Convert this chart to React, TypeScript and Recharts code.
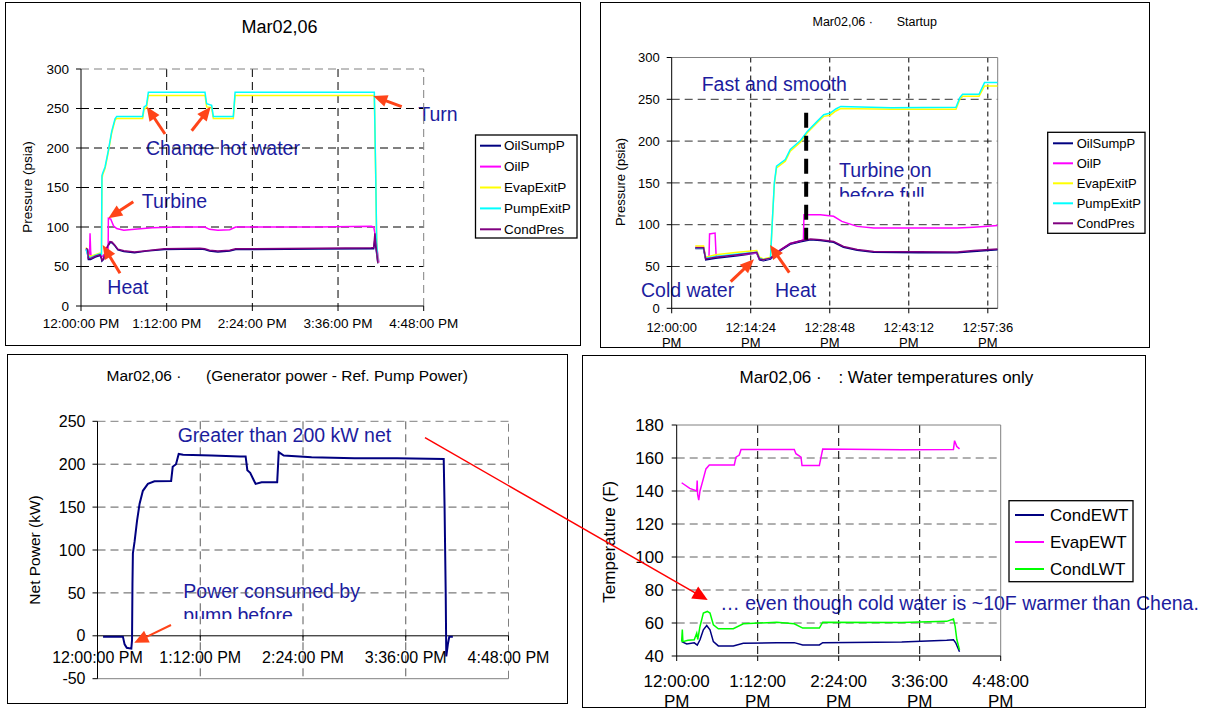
import React from 'react';
import { LineChart, Line, XAxis, YAxis, CartesianGrid, ReferenceLine } from 'recharts';

type Pt = [number, number];

const FONT = '"Liberation Sans", Arial, Helvetica, sans-serif';
const NOTE_BLUE = '#1c1c9e';
const ARROW_ORANGE = '#ff4419';

// axis ticks / labels (time in minutes after 12:00 PM)
const DAY_TICKS = [0, 72, 144, 216, 288];
const DAY_LABELS = ['12:00:00 PM', '1:12:00 PM', '2:24:00 PM', '3:36:00 PM', '4:48:00 PM'];
const DAY_LABELS_SHORT = ['12:00:00', '1:12:00', '2:24:00', '3:36:00', '4:48:00'];
const START_TICKS = [0, 14.4, 28.8, 43.2, 57.6];
const START_LABELS = ['12:00:00', '12:14:24', '12:28:48', '12:43:12', '12:57:36'];
const PRESSURE_TICKS = [0, 50, 100, 150, 200, 250, 300];
const POWER_TICKS = [-50, 0, 50, 100, 150, 200, 250];
const TEMP_TICKS = [40, 60, 80, 100, 120, 140, 160, 180];

// ---- Mar02,06 full day pressures
const OIL_SUMP_P: Pt[] = [[4.2,72],[5.5,71],[6.2,59],[8,59],[12,62],[16,64],[17,61],[17.6,57],[19,59],[21,71],[24.4,80.5],[26,80],[28,77],[31,71],[36,69],[45,67.5],[55,69.5],[70,71.5],[100,72],[104,71.5],[108,69.5],[115,68.5],[125,69.5],[130,71.5],[200,72],[244,72.5],[246,72.5],[247,85],[248,72],[249.5,54]];
const OIL_P: Pt[] = [[4.2,72],[6,63],[7.2,64],[7.6,92],[8.1,70],[8.5,62],[12,64],[16,66],[17.4,62],[20,66],[22.8,70],[23,111],[25,110],[27.5,101],[30,98],[36,96],[45,97],[60,99],[80,100],[104,100],[108,97],[115,96],[125,96.5],[130,100],[200,100],[244,101],[246,100],[247.5,88],[249,70],[250.4,55]];
const EVAP_EXIT_P: Pt[] = [[4.2,74],[6,65],[8,63],[12,65],[16,67],[17.2,66],[17.6,160],[18.2,166],[20.2,174],[23,195],[25.8,219],[28.6,235],[30,237.5],[51.8,237.5],[53,249],[55,251],[56.6,266.5],[104.2,266.5],[105.6,252],[109.8,251],[111.2,237.5],[128,237.5],[129.5,266.5],[246.5,266.5],[247.7,160],[248.5,80],[249.5,55]];
const PUMP_EXIT_P: Pt[] = [[4.2,72],[6,63],[8,61],[12,64],[16,66],[17.2,65],[17.6,165],[18.2,168],[20.2,176],[23,197],[25.8,221],[28.6,237],[30,240],[51.8,240],[53,252],[55,254],[56.6,270.5],[104.2,270.5],[105.6,256],[109.8,254],[111.2,240],[128,240],[129.5,270.5],[246.5,270.5],[247.7,165],[248.5,80],[249.5,56]];
const COND_PRES: Pt[] = [[4.2,73],[5.5,72],[6.2,60],[8,60],[12,63],[16,65],[17,62],[17.6,58],[19,60],[21,72],[24.4,81.5],[26,81],[28,78],[31,72],[36,70],[45,68.5],[55,70],[70,72.5],[100,73],[104,72.5],[108,70.5],[115,69.5],[125,70.5],[130,72.5],[200,73],[244,73.8],[246,74],[247,92],[248,75],[249.5,55]];

// ---- Startup pressures
const S_OIL_SUMP_P: Pt[] = [[4.3,71.5],[5.8,71.5],[6.2,58],[8,60],[12,63],[15.5,66],[16,58],[16.7,57],[18,59],[19.8,69],[21.6,76.6],[23.5,79.7],[25.3,82],[27.1,81],[29.5,79],[31.3,73],[33.8,69.4],[36.8,67],[45,66.5],[52,66.4],[55,68],[59.4,70]];
const S_OIL_P: Pt[] = [[4.3,73],[5.8,73],[6.2,60],[6.8,62],[6.9,89],[7.9,90],[8.1,62],[12,64],[15.5,66],[16,59],[16.7,58],[18,60],[19.8,70],[21.6,77.6],[23.5,80.7],[24,82],[24.1,112],[27.1,112],[29.5,110],[31,104],[33.8,98],[36.8,96],[52,96],[55,97],[59.4,99]];
const S_EVAP_EXIT_P: Pt[] = [[4.3,74.5],[5.8,74.5],[6.2,61],[8,64],[12,67],[15.5,69],[16,61],[16.7,59],[18,61],[18.3,100],[18.7,148],[19.1,168],[20.7,176],[21.6,188],[23.5,199],[24.7,210],[26.5,222],[27.7,229.6],[28.9,231],[29.9,236],[30.8,239],[40,238],[51.8,238],[52.5,250],[53,253.5],[56,253.5],[57,266],[59.4,266]];
const S_PUMP_EXIT_P: Pt[] = [[4.3,72],[5.8,72],[6.2,60],[8,62],[12,65],[15.5,67],[16,60],[16.7,58],[18,60],[18.3,100],[18.7,150],[19.1,170],[20.7,178],[21.6,190],[23.5,201],[24.7,211.6],[26.5,223.6],[27.7,231.6],[28.9,233.6],[29.9,238.4],[30.8,241.5],[40,240],[51.8,240.5],[52.5,252],[53,256],[56,256],[57,270],[59.4,270]];
const S_COND_PRES: Pt[] = [[4.3,72.5],[5.8,72.5],[6.2,59],[8,61],[12,64],[15.5,67],[16,59],[16.7,58],[18,60],[19.8,70],[21.6,77.6],[23.5,80.7],[25.3,83],[27.1,82],[29.5,80],[31.3,74],[33.8,70.4],[36.8,68],[45,67.5],[52,67.4],[55,69],[59.4,71]];
// turbine-on marker (min, psia)
const TURBINE_ON_MIN = 24.5;
const TURBINE_ON_RANGE = [82, 234];

// ---- Net power
const NET_POWER: Pt[] = [[3.9,-1],[17.8,-1],[19,-10],[20.5,-14],[23.7,-15],[24.2,-5],[24.5,60],[24.8,96],[26,110],[27.2,127],[27.7,134],[29.5,154],[31.8,169],[35.3,177],[39.9,180],[51.6,180.5],[52.7,197],[55,200],[56.9,212],[60,211],[80,210],[100,209],[103.8,209],[105,193],[107,190],[109.6,181],[110.8,177],[115,179],[125.9,179],[127,214],[130.5,210],[150,208],[180,207],[210,207],[242.6,206],[243.2,150],[244,50],[244.4,-24],[245.5,-10],[246.5,-1],[249,-1]];

// ---- Water temperatures
const COND_EWT: Pt[] = [[4.4,48.7],[8.9,47.3],[15.6,48],[18.3,46.6],[20.7,49.8],[23.7,55.9],[26.7,58.5],[29.6,55.9],[32.6,48.7],[37,46.1],[50.3,46.1],[59.2,47.7],[88.9,48.1],[104.5,48.1],[112,46.7],[126.8,46.7],[129.8,48.1],[200,48.5],[240,49.5],[246,49.8],[248,48],[251.4,42.6]];
const EVAP_EWT: Pt[] = [[4.4,145],[11.6,141.6],[17.8,140],[18.2,146.4],[18.6,138],[19.6,134.5],[20.7,140],[23.1,146],[26,153.4],[29,155.8],[51.2,155.8],[52.7,160.5],[55.6,161.8],[57.2,165.2],[104.5,165.2],[106,162.6],[110.5,160.5],[111.4,155.4],[126.8,155.4],[128.3,160.5],[129.8,165.4],[200,165],[246,165.2],[247,170.5],[249,167],[251.4,165.5]];
const COND_LWT: Pt[] = [[4.4,48.7],[5,56],[5.5,48.7],[10,49.5],[15.6,49.8],[17.8,53.8],[18.7,50],[20.7,57.9],[23.7,66],[27.2,67],[29.6,66],[32.6,58.9],[37,56.5],[50.3,56.5],[59.2,59.5],[88.9,60.5],[104.5,59.5],[112,56.9],[126.8,56.9],[129.8,60.5],[200,60.3],[240,61],[246,62.4],[247.5,58],[249,50],[251.4,43.7]];

const PRESSURE_NAMES = ['OilSumpP', 'OilP', 'EvapExitP', 'PumpExitP', 'CondPres'];
const PRESSURE_COLORS = ['#000080', '#ff00ff', '#ffff00', '#00ffff', '#800080'];
const DAY_PRESSURES = [OIL_SUMP_P, OIL_P, EVAP_EXIT_P, PUMP_EXIT_P, COND_PRES];
const START_PRESSURES = [S_OIL_SUMP_P, S_OIL_P, S_EVAP_EXIT_P, S_PUMP_EXIT_P, S_COND_PRES];
const TEMP_NAMES = ['CondEWT', 'EvapEWT', 'CondLWT'];
const TEMP_COLORS = ['#000080', '#ff00ff', '#00ff00'];
const TEMPS = [COND_EWT, EVAP_EWT, COND_LWT];

const rows = (pts: Pt[]) => pts.map(([t, v]) => ({ t, v }));

function Panel({ left, top, width, height, children }: any) {
  return (
    <div style={{ position: 'absolute', left, top, width, height, border: '1px solid #000', boxSizing: 'border-box', overflow: 'hidden', zIndex: 1 }}>
      {children}
    </div>
  );
}

function Arrow({ x1, y1, x2, y2, color, w, head, headW }: any) {
  const dx = x2 - x1, dy = y2 - y1;
  const len = Math.hypot(dx, dy);
  const ux = dx / len, uy = dy / len;
  const bx = x2 - ux * head, by = y2 - uy * head;
  const px = (-uy * headW) / 2, py = (ux * headW) / 2;
  return (
    <g>
      <line x1={x1} y1={y1} x2={bx + ux} y2={by + uy} stroke={color} strokeWidth={w} />
      <polygon points={`${x2},${y2} ${bx + px},${by + py} ${bx - px},${by - py}`} fill={color} />
    </g>
  );
}

function LegendBox({ x, y, w, h, names, colors, first, step, lineX, lineW, textX, fs }: any) {
  return (
    <g>
      <rect x={x} y={y} width={w} height={h} fill="#fff" stroke="#000" strokeWidth={1.3} />
      {names.map((n: string, i: number) => (
        <g key={n}>
          <line x1={lineX} x2={lineX + lineW} y1={first + i * step} y2={first + i * step} stroke={colors[i]} strokeWidth={2} />
          <text x={textX} y={first + i * step} dominantBaseline="central" fontSize={fs} fill="#000">{n}</text>
        </g>
      ))}
    </g>
  );
}

const yAxisProps = (fs: number, margin: number) => ({
  type: 'number' as const,
  width: 50,
  interval: 0 as const,
  tickSize: 5,
  tickMargin: margin,
  tick: { fontSize: fs, fill: '#000', fontFamily: FONT },
  axisLine: { stroke: '#000' },
  tickLine: { stroke: '#000' },
  allowDataOverflow: true,
});

export default function App() {
  const dayTick = (props: any) => {
    const i = DAY_TICKS.indexOf(props.payload.value);
    return <text x={props.x} y={props.y + 17.3} textAnchor="middle" fontSize={13.5} fill="#000" fontFamily={FONT}>{DAY_LABELS[i]}</text>;
  };
  const startTick = (props: any) => {
    const i = START_TICKS.indexOf(props.payload.value);
    return (
      <g>
        <text x={props.x} y={props.y + 18.4} textAnchor="middle" fontSize={13} fill="#000" fontFamily={FONT}>{START_LABELS[i]}</text>
        <text x={props.x} y={props.y + 33.4} textAnchor="middle" fontSize={13} fill="#000" fontFamily={FONT}>PM</text>
      </g>
    );
  };
  const p3PlotH = 348 - 66.3 - 4.3 - 20;
  const zeroOff = (p3PlotH * 50) / 300;
  const powerTick = (props: any) => {
    const i = DAY_TICKS.indexOf(props.payload.value);
    return (
      <g>
        <line x1={props.x} x2={props.x} y1={props.y - zeroOff} y2={props.y - zeroOff + 5} stroke="#000" />
        <text x={props.x} y={props.y - 15.4} textAnchor="middle" fontSize={16} fill="#000" fontFamily={FONT}>{DAY_LABELS[i]}</text>
      </g>
    );
  };
  const tempTick = (props: any) => {
    const i = DAY_TICKS.indexOf(props.payload.value);
    return (
      <g>
        <text x={props.x} y={props.y + 25.7} textAnchor="middle" fontSize={17} fill="#000" fontFamily={FONT}>{DAY_LABELS_SHORT[i]}</text>
        <text x={props.x} y={props.y + 45.7} textAnchor="middle" fontSize={17} fill="#000" fontFamily={FONT}>PM</text>
      </g>
    );
  };

  return (
    <div style={{ position: 'fixed', left: 0, top: 0, width: 1213, height: 708, background: '#fff', fontFamily: FONT, overflow: 'hidden' }}>
      {/* texts drawn under the plots (grid lines cross them in the original) */}
      <svg width={1213} height={708} style={{ position: 'absolute', left: 0, top: 0, zIndex: 0 }} fontFamily={FONT}>
        <defs>
          <clipPath id="clipChange"><rect x={130} y={125} width={220} height={30.5} /></clipPath>
          <clipPath id="clipTurbineOn"><rect x={830} y={150} width={120} height={46.7} /></clipPath>
          <clipPath id="clipPump"><rect x={175} y={575} width={220} height={44} /></clipPath>
        </defs>
        {/* panel 1 */}
        <text x={279.5} y={33.3} textAnchor="middle" fontSize={18} fill="#000">Mar02,06</text>
        <text x={27} y={187} textAnchor="middle" dominantBaseline="central" fontSize={13.5} transform="rotate(-90 27 187)">Pressure (psia)</text>
        <g fill={NOTE_BLUE} fontSize={19.5}>
          <text x={146} y={154.5} clipPath="url(#clipChange)">Change hot water</text>
          <text x={141.7} y={207.7}>Turbine</text>
          <text x={107.3} y={294.3}>Heat</text>
          <text x={418.3} y={121}>Turn</text>
        </g>
        {/* panel 2 */}
        <text x={812.5} y={26} fontSize={12.5}>Mar02,06 ·</text>
        <text x={896.7} y={26} fontSize={12.5}>Startup</text>
        <text x={620} y={182} textAnchor="middle" dominantBaseline="central" fontSize={13} transform="rotate(-90 620 182)">Pressure (psia)</text>
        <g fill={NOTE_BLUE} fontSize={19.5}>
          <text x={701.7} y={90.7}>Fast and smooth</text>
          <g clipPath="url(#clipTurbineOn)">
            <text x={839} y={177.3}>Turbine on</text>
            <text x={839} y={201.8}>before full</text>
          </g>
          <text x={641} y={296.7}>Cold water</text>
          <text x={775} y={296.7}>Heat</text>
        </g>
        {/* panel 3 */}
        <text x={106.5} y={380.5} fontSize={15.5}>Mar02,06 ·</text>
        <text x={206} y={380.5} fontSize={15.5}>(Generator power - Ref. Pump Power)</text>
        <text x={34.6} y={550} textAnchor="middle" dominantBaseline="central" fontSize={15.5} transform="rotate(-90 34.6 550)">Net Power (kW)</text>
        <g fill={NOTE_BLUE} fontSize={19.5}>
          <text x={177.7} y={441.7}>Greater than 200 kW net</text>
          <g clipPath="url(#clipPump)">
            <text x={183.3} y={597.7}>Power consumed by</text>
            <text x={183.3} y={622.2}>pump before</text>
          </g>
        </g>
        {/* panel 4 */}
        <text x={739.5} y={383} fontSize={17}>Mar02,06 ·</text>
        <text x={838.4} y={383} fontSize={17}>: Water temperatures only</text>
        <text x={610} y={541.7} textAnchor="middle" dominantBaseline="central" fontSize={17} transform="rotate(-90 610 541.7)">Temperature (F)</text>
        <text x={720.3} y={610} fill={NOTE_BLUE} fontSize={19.5}>… even though cold water is ~10F warmer than Chena.</text>
      </svg>

      {/* panel 1: full day pressures */}
      <Panel left={5} top={2} width={576} height={344}>
        <LineChart width={574} height={342} margin={{ top: 66, right: 156.3, bottom: 9, left: 25 }}>
          <CartesianGrid horizontal vertical horizontalValues={[50, 100, 150, 200, 250]} verticalValues={[72, 144, 216]} stroke="#000" strokeDasharray="8 5" />
          <ReferenceLine y={300} stroke="#808080" strokeDasharray="8 5" />
          <ReferenceLine x={288} stroke="#808080" strokeDasharray="8 5" />
          <XAxis type="number" dataKey="t" domain={[0, 288]} ticks={DAY_TICKS} interval={0} height={30} tickSize={5} tickMargin={0}
            axisLine={{ stroke: '#000' }} tickLine={{ stroke: '#000' }} tick={dayTick} allowDataOverflow />
          <YAxis {...yAxisProps(13.5, 7)} domain={[0, 300]} ticks={PRESSURE_TICKS} />
          {DAY_PRESSURES.map((pts, i) => (
            <Line key={PRESSURE_NAMES[i]} data={rows(pts)} dataKey="v" type="linear" stroke={PRESSURE_COLORS[i]} strokeWidth={1.5} dot={false} isAnimationActive={false} />
          ))}
        </LineChart>
      </Panel>

      {/* panel 2: startup */}
      <Panel left={600} top={2} width={550} height={346}>
        <LineChart width={548} height={344} margin={{ top: 54.5, right: 151.3, bottom: 8.7, left: 20.7 }}>
          <CartesianGrid horizontalValues={[50, 100, 150, 200, 250]} vertical={false} stroke="#333" strokeDasharray="8 5" />
          <CartesianGrid verticalValues={[14.4, 28.8, 43.2, 57.6]} horizontal={false} stroke="#000" strokeDasharray="5 4" />
          <ReferenceLine y={300} stroke="#808080" />
          <ReferenceLine x={59.4} stroke="#808080" />
          <XAxis type="number" dataKey="t" domain={[0, 59.4]} ticks={START_TICKS} interval={0} height={30} tickSize={5} tickMargin={0}
            axisLine={{ stroke: '#000' }} tickLine={{ stroke: '#000' }} tick={startTick} allowDataOverflow />
          <YAxis {...yAxisProps(13, 7)} domain={[0, 300]} ticks={PRESSURE_TICKS} />
          {START_PRESSURES.map((pts, i) => (
            <Line key={PRESSURE_NAMES[i]} data={rows(pts)} dataKey="v" type="linear" stroke={PRESSURE_COLORS[i]} strokeWidth={1.5} dot={false} isAnimationActive={false} />
          ))}
          <ReferenceLine segment={[{ x: TURBINE_ON_MIN, y: TURBINE_ON_RANGE[1] }, { x: TURBINE_ON_MIN, y: TURBINE_ON_RANGE[0] }]}
            stroke="#000" strokeWidth={4} strokeDasharray="15 8" />
        </LineChart>
      </Panel>

      {/* panel 3: net power */}
      <Panel left={7} top={354} width={561} height={350}>
        <LineChart width={559} height={348} margin={{ top: 66.3, right: 58.5, bottom: 4.3, left: 39.5 }}>
          <CartesianGrid horizontalValues={[50, 100, 150, 200]} verticalValues={[72, 144, 216]} stroke="#5a5a5a" strokeDasharray="8 5" />
          <ReferenceLine y={250} stroke="#808080" strokeDasharray="8 5" />
          <ReferenceLine x={288} stroke="#808080" strokeDasharray="8 5" />
          <ReferenceLine y={0} stroke="#000" />
          <XAxis type="number" dataKey="t" domain={[0, 288]} ticks={DAY_TICKS} interval={0} height={20} tickSize={0} tickMargin={0}
            axisLine={{ stroke: '#808080' }} tickLine={false} tick={powerTick} allowDataOverflow />
          <YAxis {...yAxisProps(16, 7)} domain={[-50, 250]} ticks={POWER_TICKS} />
          <Line data={rows(NET_POWER)} dataKey="v" type="linear" stroke="#000080" strokeWidth={2} dot={false} isAnimationActive={false} />
        </LineChart>
      </Panel>

      {/* panel 4: water temperatures */}
      <Panel left={582} top={355} width={564} height={353}>
        <LineChart width={562} height={351} margin={{ top: 69, right: 144.3, bottom: 11, left: 43.7 }}>
          <CartesianGrid horizontalValues={[60, 80, 100, 120, 140, 160]} vertical={false} stroke="#606060" strokeDasharray="8 5" />
          <CartesianGrid verticalValues={[72, 144, 216]} horizontal={false} stroke="#000" strokeDasharray="8 5" />
          <ReferenceLine y={180} stroke="#808080" />
          <ReferenceLine x={288} stroke="#808080" />
          <XAxis type="number" dataKey="t" domain={[0, 288]} ticks={DAY_TICKS} interval={0} height={40} tickSize={5} tickMargin={0}
            axisLine={{ stroke: '#000' }} tickLine={{ stroke: '#000' }} tick={tempTick} allowDataOverflow />
          <YAxis {...yAxisProps(17, 8)} domain={[40, 180]} ticks={TEMP_TICKS} />
          {TEMPS.map((pts, i) => (
            <Line key={TEMP_NAMES[i]} data={rows(pts)} dataKey="v" type="linear" stroke={TEMP_COLORS[i]} strokeWidth={1.5} dot={false} isAnimationActive={false} />
          ))}
        </LineChart>
      </Panel>

      {/* arrows and legends on top */}
      <svg width={1213} height={708} style={{ position: 'absolute', left: 0, top: 0, zIndex: 2, pointerEvents: 'none' }} fontFamily={FONT}>
        <LegendBox x={475.5} y={135} w={101.5} h={103} names={PRESSURE_NAMES} colors={PRESSURE_COLORS} first={145.7} step={20.9} lineX={480} lineW={21} textX={504} fs={13.5} />
        <LegendBox x={1047.7} y={132.3} w={97.3} h={101} names={PRESSURE_NAMES} colors={PRESSURE_COLORS} first={143.3} step={20} lineX={1053} lineW={20} textX={1076.7} fs={13} />
        <LegendBox x={1009} y={500.7} w={124} h={81} names={TEMP_NAMES} colors={TEMP_COLORS} first={515} step={27} lineX={1015} lineW={29} textX={1050} fs={17} />

        <Arrow x1={165} y1={134} x2={146.7} y2={106.7} color={ARROW_ORANGE} w={3} head={14} headW={12} />
        <Arrow x1={191.7} y1={130.7} x2={210.7} y2={106.7} color={ARROW_ORANGE} w={3} head={14} headW={12} />
        <Arrow x1={401.7} y1={106.7} x2={373.3} y2={96} color={ARROW_ORANGE} w={3} head={14} headW={12} />
        <Arrow x1={133.3} y1={201.7} x2={108.3} y2={218.3} color={ARROW_ORANGE} w={3} head={14} headW={12} />
        <Arrow x1={120} y1={273.3} x2={102.7} y2={245} color={ARROW_ORANGE} w={3} head={14} headW={12} />

        <Arrow x1={730.7} y1={281.7} x2={754} y2={259.3} color={ARROW_ORANGE} w={3} head={14} headW={12} />
        <Arrow x1={789.3} y1={272.7} x2={770} y2={245} color={ARROW_ORANGE} w={3} head={14} headW={12} />

        <Arrow x1={171} y1={625} x2={134.3} y2={642.7} color={ARROW_ORANGE} w={2} head={14} headW={13} />
        <Arrow x1={425} y1={437.7} x2={707.7} y2={600} color="#ff0000" w={1.5} head={15} headW={14} />
      </svg>
    </div>
  );
}
